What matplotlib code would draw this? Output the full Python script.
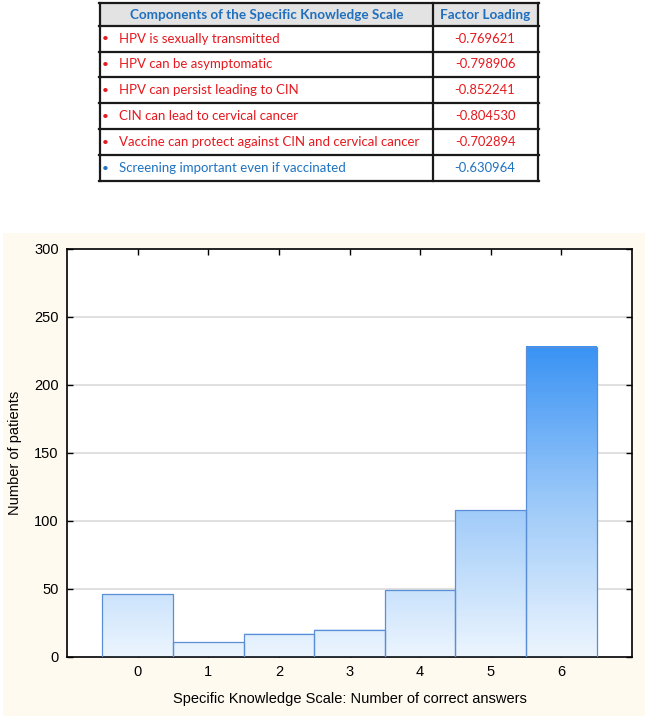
import matplotlib
matplotlib.use('Agg')
import matplotlib.pyplot as plt
import numpy as np
from matplotlib.colors import LinearSegmentedColormap
from matplotlib.patches import Rectangle

# --- Data ---
components = [
    'HPV is sexually transmitted',
    'HPV can be asymptomatic',
    'HPV can persist leading to CIN',
    'CIN can lead to cervical cancer',
    'Vaccine can protect against CIN and cervical cancer',
    'Screening important even if vaccinated',
]
loadings = ['-0.769621', '-0.798906', '-0.852241', '-0.804530', '-0.702894', '-0.630964']
row_colors = ['#E5191F'] * 5 + ['#1F72C0']

scores = [0, 1, 2, 3, 4, 5, 6]
patients = [46, 11, 17, 20, 49, 108, 228]

W, H = 647, 719
fig = plt.figure(figsize=(W / 100, H / 100), dpi=100)

# Full-figure axes in pixel coordinates for table + panel background
bg = fig.add_axes([0, 0, 1, 1])
bg.set_xlim(0, W)
bg.set_ylim(H, 0)
bg.axis('off')

# cream panel behind chart
bg.add_patch(Rectangle((3, 233), 642, 483, facecolor='#FEFAF0', edgecolor='none'))

# ============================================================
# TABLE
# ============================================================
tl, tdiv, tr = 100, 433, 538
row_y = [3, 26, 52, 77, 103, 129, 155, 181]
bg.add_patch(Rectangle((tl, row_y[0]), tr - tl, row_y[1] - row_y[0],
                       facecolor='#E3E3E3', edgecolor='none'))
for y in row_y:
    bg.plot([tl - 0.8, tr + 0.8], [y, y], color='#1A1A1A', lw=1.6)
for x in (tl, tdiv, tr):
    bg.plot([x, x], [row_y[0], row_y[-1]], color='#1A1A1A', lw=1.6)

tfont = 'Lato'
bg.text((tl + tdiv) / 2, (row_y[0] + row_y[1]) / 2 + 0.5, 'Components of the Specific Knowledge Scale',
        ha='center', va='center', fontsize=9.7, fontweight='bold', color='#1F6FBF', family=tfont)
bg.text((tdiv + tr) / 2, (row_y[0] + row_y[1]) / 2 + 0.5, 'Factor Loading',
        ha='center', va='center', fontsize=9.7, fontweight='bold', color='#1F6FBF', family=tfont)

for i, (comp, load, c) in enumerate(zip(components, loadings, row_colors)):
    yc = (row_y[i + 1] + row_y[i + 2]) / 2
    bg.text(105, yc, '\u2022', ha='center', va='center', fontsize=8.5, color=c, family=tfont)
    bg.text(119, yc, comp, ha='left', va='center', fontsize=9.5, color=c, family=tfont)
    bg.text(485, yc, load, ha='center', va='center', fontsize=9.4, color=c, family=tfont)

# ============================================================
# HISTOGRAM
# ============================================================
ax_l, ax_r, ax_t, ax_b = 67, 632, 249, 657
ax = fig.add_axes([ax_l / W, (H - ax_b) / H, (ax_r - ax_l) / W, (ax_b - ax_t) / H])
ax.set_facecolor('white')

cmap = LinearSegmentedColormap.from_list('bluegrad', ['#ECF5FE', '#9CC9F9', '#3A93F4'])
vmax = max(patients)
for s, p in zip(scores, patients):
    grad = np.linspace(0, p, 100).reshape(-1, 1)
    ax.imshow(grad, extent=[s - 0.5, s + 0.5, 0, p], origin='lower', aspect='auto',
              cmap=cmap, vmin=0, vmax=vmax, zorder=2)
ax.bar(scores, patients, width=1.0, fill=False, edgecolor='#5A8FD8', linewidth=0.9, zorder=3)

ax.set_xlim(-1, 7)
ax.set_ylim(0, 300)
ax.set_xticks(scores)
ax.set_yticks(np.arange(0, 301, 50))
for yv in range(50, 300, 50):
    ax.axhline(yv, color='#DADADA', lw=1.2, zorder=1)

ax.tick_params(direction='in', top=True, right=True, length=4, width=1,
               labelsize=10.5, pad=6)
for lab in ax.get_xticklabels() + ax.get_yticklabels():
    lab.set_family('Liberation Sans')
for sp in ax.spines.values():
    sp.set_linewidth(1.2)

ax.set_xlabel('Specific Knowledge Scale: Number of correct answers', fontsize=10.5,
              family='Liberation Sans', labelpad=9)
ax.set_ylabel('Number of patients', fontsize=10.5, family='Liberation Sans', labelpad=9)

plt.savefig('out.png', dpi=100)
